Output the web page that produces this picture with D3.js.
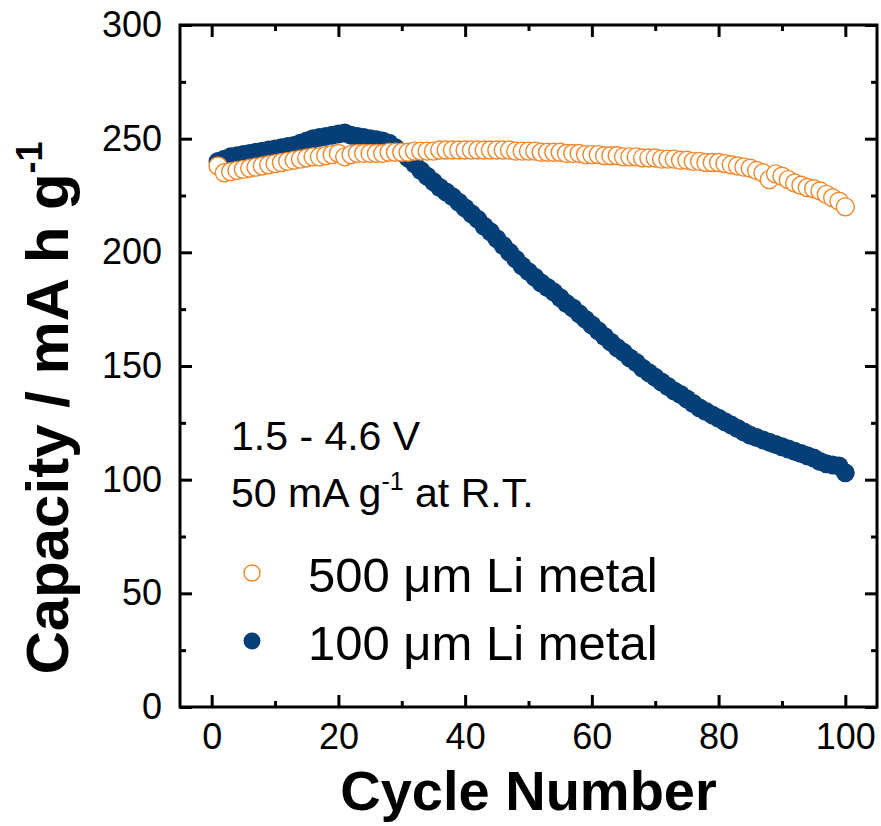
<!DOCTYPE html>
<html>
<head>
<meta charset="utf-8">
<script src="https://cdn.jsdelivr.net/npm/d3@7/dist/d3.min.js"></script>
<style>
  html, body { margin: 0; padding: 0; background: #fff; }
  svg { display: block; }
  text { font-family: "Liberation Sans", Arial, Helvetica, sans-serif; fill: #000; }
</style>
</head>
<body>
<svg id="chart" width="881" height="826"></svg>
<script>
// Cycle numbers 1..100
const cycles = d3.range(1, 101);

// Discharge capacity (mA h g^-1), 500 µm Li metal anode
const cap500 = [
  238, 235, 235.5, 236, 236.5, 237, 237.5, 238, 238.5, 239,
  239.5, 240, 240.5, 241, 241.5, 242, 242, 242.5, 243, 243.5,
  242, 243, 243.5, 243.5, 243.5, 243.5, 243.5, 244, 244, 244,
  244, 244.5, 244.5, 244.5, 244.5, 245, 245, 245, 245, 245,
  245, 245, 245, 245, 245, 245, 245, 244.5, 244.5, 244.5,
  244.5, 244, 244, 244, 244, 243.5, 243.5, 243.5, 243, 243,
  243, 242.5, 242.5, 242.5, 242, 242, 242, 241.5, 241.5, 241.5,
  241, 241, 241, 240.5, 240.5, 240, 240, 239.5, 239.5, 239.5,
  239, 238.5, 238, 237.5, 237, 236, 235, 232, 234.5, 233.5,
  232, 230.5, 229.5, 228.5, 228, 227, 225.5, 224, 222.5, 220
];

// Discharge capacity (mA h g^-1), 100 µm Li metal anode
const cap100 = [
  240, 241, 242, 242.5, 243, 243.5, 244, 244.5, 245, 245.5,
  246, 246.5, 247, 248, 249, 250, 250.5, 251, 251.5, 252,
  252.5, 251.5, 251, 250.5, 250, 249.5, 249, 248, 246, 244,
  241.5, 239, 236, 233.5, 231, 228.5, 226.5, 224.5, 222, 219.5,
  217, 214.5, 211.5, 209, 206, 203, 200, 197, 194, 191.5,
  189, 186.5, 184.5, 182.5, 180, 177.5, 175.5, 173, 170.5, 168,
  165.5, 163, 160.5, 158, 156, 153.5, 151.5, 149, 147, 145,
  143, 141, 139, 137.5, 135.5, 133.5, 131.5, 130, 128.5, 127,
  125.5, 124, 122.5, 121, 119.5, 118.5, 117.5, 116.5, 115.5, 114.5,
  113.5, 112.5, 111.5, 110.5, 109.5, 108, 107, 106.5, 106, 103
];

// Axis ticks
const xMajor = [0, 20, 40, 60, 80, 100];
const xMinor = [10, 30, 50, 70, 90];
const yMajor = [0, 50, 100, 150, 200, 250, 300];
const yMinor = [25, 75, 125, 175, 225, 275];

const seriesLabels = ["500 \u03BCm Li metal", "100 \u03BCm Li metal"];

const ORANGE = "#f3862a";
const NAVY = "#053f77";

const svg = d3.select("#chart");
const margin = { left: 180, right: 4, top: 25, bottom: 119 };
const W = 881, H = 826;
const x = d3.scaleLinear().domain([-5, 105]).range([margin.left, W - margin.right]);
const y = d3.scaleLinear().domain([0, 300]).range([H - margin.bottom, margin.top]);

const fs = 36;

// Bottom axis (ticks pointing into the plot)
const gx = svg.append("g").attr("transform", `translate(0,${y(0)})`)
  .call(d3.axisBottom(x).tickValues(xMajor).tickSize(-12).tickPadding(16).tickFormat(d3.format("d")));
svg.append("g").attr("transform", `translate(0,${y(0)})`)
  .call(d3.axisBottom(x).tickValues(xMinor).tickSize(-6).tickFormat(""));
// Top mirror ticks
svg.append("g").attr("transform", `translate(0,${y(300)})`)
  .call(d3.axisTop(x).tickValues(xMajor).tickSize(-12).tickFormat(""));
svg.append("g").attr("transform", `translate(0,${y(300)})`)
  .call(d3.axisTop(x).tickValues(xMinor).tickSize(-6).tickFormat(""));
// Left axis
const gy = svg.append("g").attr("transform", `translate(${x(-5)},0)`)
  .call(d3.axisLeft(y).tickValues(yMajor).tickSize(-12).tickPadding(18).tickFormat(d3.format("d")));
svg.append("g").attr("transform", `translate(${x(-5)},0)`)
  .call(d3.axisLeft(y).tickValues(yMinor).tickSize(-6).tickFormat(""));
// Right mirror ticks
svg.append("g").attr("transform", `translate(${x(105)},0)`)
  .call(d3.axisRight(y).tickValues(yMajor).tickSize(-12).tickFormat(""));
svg.append("g").attr("transform", `translate(${x(105)},0)`)
  .call(d3.axisRight(y).tickValues(yMinor).tickSize(-6).tickFormat(""));

svg.selectAll(".domain").remove();
svg.selectAll(".tick line").attr("stroke", "#000").attr("stroke-width", 3);
svg.selectAll(".tick text").attr("font-size", fs).attr("fill", "#000")
  .style("font-family", "'Liberation Sans', Arial, sans-serif");
gx.selectAll(".tick text").attr("dy", "0.71em");

// Data markers: navy filled first, orange open circles on top
svg.append("g").selectAll("circle").data(cycles).join("circle")
  .attr("cx", (d) => x(d)).attr("cy", (d, i) => y(cap100[i]))
  .attr("r", 9.5).attr("fill", NAVY);

svg.append("g").selectAll("circle").data(cycles).join("circle")
  .attr("cx", (d) => x(d)).attr("cy", (d, i) => y(cap500[i]))
  .attr("r", 9).attr("fill", "#fff").attr("stroke", ORANGE).attr("stroke-width", 1.4);

// Frame
svg.append("rect")
  .attr("x", x(-5)).attr("y", y(300))
  .attr("width", x(105) - x(-5)).attr("height", y(0) - y(300))
  .attr("fill", "none").attr("stroke", "#000").attr("stroke-width", 3);

// Axis titles
svg.append("text")
  .attr("x", (x(-5) + x(105)) / 2).attr("y", 810)
  .attr("text-anchor", "middle").attr("font-size", 56).attr("font-weight", "bold")
  .text("Cycle Number");

const yt = svg.append("text")
  .attr("transform", "translate(68,408) rotate(-90)")
  .attr("text-anchor", "middle").attr("font-size", 60).attr("font-weight", "bold");
yt.append("tspan").text("Capacity / mA h g");
yt.append("tspan").attr("font-size", 36).attr("dy", -26).text("-1");

// Test conditions
svg.append("text").attr("x", 231).attr("y", 450).attr("font-size", 41).text("1.5 - 4.6 V");
const cond = svg.append("text").attr("x", 231).attr("y", 507).attr("font-size", 41);
cond.append("tspan").text("50 mA g");
cond.append("tspan").attr("font-size", 25).attr("dy", -17).text("-1");
cond.append("tspan").attr("dy", 17).text(" at R.T.");

// Legend
const legY = [573, 641];
svg.append("circle").attr("cx", 252).attr("cy", legY[0]).attr("r", 8)
  .attr("fill", "#fff").attr("stroke", ORANGE).attr("stroke-width", 1.4);
svg.append("circle").attr("cx", 252).attr("cy", legY[1]).attr("r", 8.5)
  .attr("fill", NAVY);
seriesLabels.forEach((t, i) => {
  svg.append("text").attr("x", 308).attr("y", legY[i] + 19)
    .attr("font-size", 49).text(t);
});
</script>
</body>
</html>
